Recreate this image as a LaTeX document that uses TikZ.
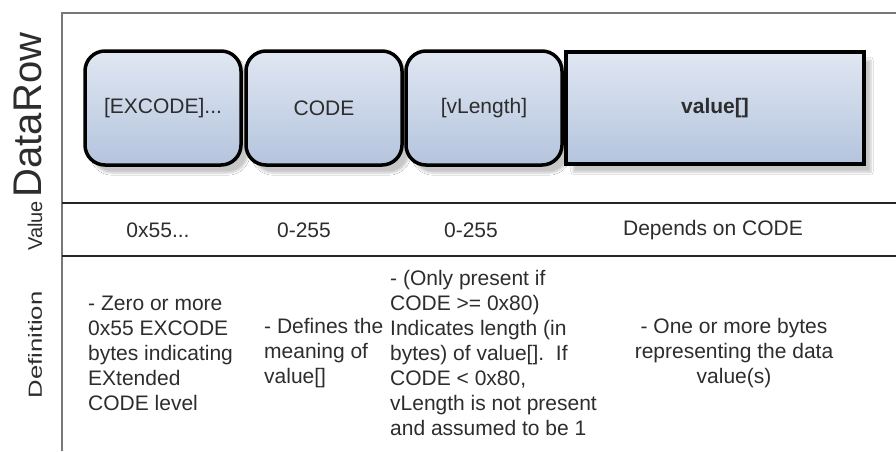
\documentclass[tikz,border=0pt]{standalone}
\usepackage{fontspec}
\setmainfont{Liberation Sans}
\newfontfamily\widesans[FakeStretch=1.35]{Liberation Sans}
\usetikzlibrary{shadows.blur}
\definecolor{boxtop}{RGB}{224,231,242}
\definecolor{boxbot}{RGB}{180,196,221}
\definecolor{txt}{RGB}{45,45,45}
\definecolor{framegray}{RGB}{120,120,120}
\begin{document}
\begin{tikzpicture}[x=1pt,y=-1pt,
  field/.style={draw=black, line width=3.5pt, rounded corners=20pt,
    top color=boxtop, bottom color=boxbot,
    minimum width=156pt, minimum height=114pt, inner sep=0pt,
    text=txt, font=\fontsize{21}{25}\selectfont,
    blur shadow={shadow xshift=7pt, shadow yshift=-8pt, shadow opacity=22, shadow blur steps=6}},
  valtxt/.style={text=txt, font=\fontsize{21}{25}\selectfont, inner sep=0pt},
  deftxt/.style={text=txt, font=\fontsize{21}{25}\selectfont, inner sep=0pt, anchor=west, align=left},
  rowlabel/.style={text=txt, rotate=90, inner sep=0pt, font=\fontsize{20}{24}\selectfont}
]
\fill[white] (0,0) rectangle (896,451);
\useasboundingbox (0,0) rectangle (896,451);
% frame
\draw[framegray, line width=2pt] (62,451) -- (62,13) -- (896,13);
\draw[black!85, line width=2.5pt] (62,203) -- (896,203);
\draw[black!85, line width=2.5pt] (62,256) -- (896,256);
% row labels
\node[rowlabel, font=\fontsize{40}{44}\selectfont] (lrow) at (28,115) {DataRow};
\node[rowlabel] (lval) at (35,226) {Value};
\node[rowlabel, font=\fontsize{19}{22}\widesans] (ldef) at (35,345) {Definition};
% fields
\node[field] (excode) at (163,108) {[EXCODE]...};
\node[field] (code) at (324,108) {CODE};
\node[field] (vlen) at (484,108) {[vLength]};
\node[field, rounded corners=0pt, minimum width=298pt, minimum height=112pt, font=\fontsize{21}{25}\selectfont\bfseries] (val) at (715,108) {value[]};
% values
\node[valtxt] (v1) at (158,230) {0x55...};
\node[valtxt] (v2) at (304,230) {0-255};
\node[valtxt] (v3) at (471,230) {0-255};
\node[valtxt] (v4) at (713,230) {Depends on CODE};
% definitions
\node[deftxt] (d1) at (88,353) {- Zero or more\\0x55 EXCODE\\bytes indicating\\EXtended\\CODE level};
\node[deftxt] (d2) at (264,353) {- Defines the\\meaning of\\value[]};
\node[deftxt] (d3) at (390,353) {- (Only present if\\CODE >= 0x80)\\Indicates length (in\\bytes) of value[].\ \ If\\CODE < 0x80,\\vLength is not present\\and assumed to be 1};
\node[deftxt, anchor=center, align=center] (d4) at (734,353) {- One or more bytes\\representing the data\\value(s)};
\end{tikzpicture}
\end{document}
